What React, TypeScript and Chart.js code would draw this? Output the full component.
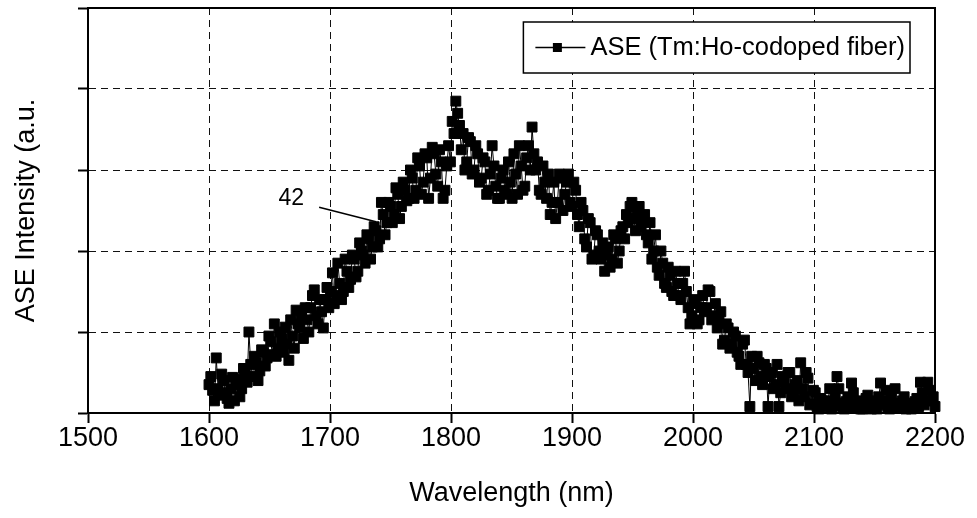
import React, { useEffect, useRef } from "react";
import { Chart, registerables } from "chart.js";

Chart.register(...registerables);

// ---- data (two interleaved sampling grids) ----
const wavelengths = [
  1600, 1603, 1606, 1609, 1612, 1615, 1618, 1621, 1624, 1627,
  1630, 1633, 1636, 1639, 1642, 1645, 1648, 1651, 1654, 1657,
  1660, 1663, 1666, 1669, 1672, 1675, 1678, 1681, 1684, 1687,
  1690, 1693, 1696, 1699, 1702, 1705, 1708, 1711, 1714, 1717,
  1720, 1723, 1726, 1729, 1732, 1735, 1738, 1741, 1744, 1747,
  1750, 1753, 1756, 1759, 1762, 1765, 1768, 1771, 1774, 1777,
  1780, 1783, 1786, 1789, 1792, 1795, 1798, 1801, 1804, 1807,
  1810, 1813, 1816, 1819, 1822, 1825, 1828, 1831, 1834, 1837,
  1840, 1843, 1846, 1849, 1852, 1855, 1858, 1861, 1864, 1867,
  1870, 1873, 1876, 1879, 1882, 1885, 1888, 1891, 1894, 1897,
  1900, 1903, 1906, 1909, 1912, 1915, 1918, 1921, 1924, 1927,
  1930, 1933, 1936, 1939, 1942, 1945, 1948, 1951, 1954, 1957,
  1960, 1963, 1966, 1969, 1972, 1975, 1978, 1981, 1984, 1987,
  1990, 1993, 1996, 1999, 2002, 2005, 2008, 2011, 2014, 2017,
  2020, 2023, 2026, 2029, 2032, 2035, 2038, 2041, 2044, 2047,
  2050, 2053, 2056, 2059, 2062, 2065, 2068, 2071, 2074, 2077,
  2080, 2083, 2086, 2089, 2092, 2095, 2098, 2101, 2104, 2107,
  2110, 2113, 2116, 2119, 2122, 2125, 2128, 2131, 2134, 2137,
  2140, 2143, 2146, 2149, 2152, 2155, 2158, 2161, 2164, 2167,
  2170, 2173, 2176, 2179, 2182, 2185, 2188, 2191, 2194, 2197,
  2200,
];

const intensity = [
  0.35, 0.28, 0.68, 0.22, 0.4, 0.18, 0.3, 0.15, 0.42, 0.3,
  0.5, 1.0, 0.45, 0.62, 0.52, 0.75, 0.68, 0.88, 1.1, 0.8,
  0.92, 1.06, 0.65, 0.95, 1.27, 1.05, 0.92, 1.15, 1.3, 1.52,
  1.1, 1.25, 1.4, 1.3, 1.73, 1.45, 1.6, 1.5, 1.75, 1.65,
  1.9, 1.75, 2.0, 1.85, 2.15, 2.05, 2.25, 2.15, 2.45, 2.35,
  2.55, 2.45, 2.7, 2.55, 2.75, 2.65, 2.9, 2.75, 3.05, 2.85,
  3.15, 2.9, 3.2, 2.8, 3.1, 2.75, 3.3, 3.6, 3.85, 3.55,
  3.45, 3.1, 3.35, 3.0, 3.2, 2.9, 3.1, 2.75, 3.3, 2.8,
  2.65, 3.0, 2.7, 2.85, 3.2, 2.7, 3.05, 2.8, 3.3, 3.53,
  3.0, 2.75, 3.05, 2.65, 2.45, 2.85, 2.6, 2.9, 2.7, 2.95,
  2.55, 2.75, 2.3, 2.5, 2.05, 2.35, 1.95, 2.2, 1.9, 1.75,
  2.05, 1.9, 2.15, 2.0, 2.3, 2.45, 2.55, 2.4, 2.5, 2.3,
  2.45, 2.1, 1.9, 2.2, 1.7, 1.85, 1.55, 1.7, 1.45, 1.6,
  1.4, 1.75, 1.3, 1.2, 1.35, 1.15, 1.45, 1.3, 1.5, 1.2,
  1.05, 1.25, 0.9, 1.05, 0.85, 0.95, 0.7, 0.85, 0.6, 0.08,
  0.55, 0.7, 0.45, 0.6, 0.08, 0.5, 0.35, 0.08, 0.45, 0.3,
  0.5, 0.25, 0.4, 0.62, 0.2, 0.43, 0.12, 0.25, 0.05, 0.15,
  0.08, 0.3, 0.1, 0.45, 0.12, 0.05, 0.2, 0.37, 0.08, 0.15,
  0.05, 0.18, 0.08, 0.12, 0.05, 0.37, 0.15, 0.08, 0.2, 0.3,
  0.06, 0.15, 0.05, 0.12, 0.08, 0.18, 0.38, 0.1, 0.38, 0.15,
  0.08,
];

const wavelengthsMid = [
  1601.5, 1604.5, 1607.5, 1610.5, 1613.5, 1616.5, 1619.5, 1622.5, 1625.5, 1628.5,
  1631.5, 1634.5, 1637.5, 1640.5, 1643.5, 1646.5, 1649.5, 1652.5, 1655.5, 1658.5,
  1661.5, 1664.5, 1667.5, 1670.5, 1673.5, 1676.5, 1679.5, 1682.5, 1685.5, 1688.5,
  1691.5, 1694.5, 1697.5, 1700.5, 1703.5, 1706.5, 1709.5, 1712.5, 1715.5, 1718.5,
  1721.5, 1724.5, 1727.5, 1730.5, 1733.5, 1736.5, 1739.5, 1742.5, 1745.5, 1748.5,
  1751.5, 1754.5, 1757.5, 1760.5, 1763.5, 1766.5, 1769.5, 1772.5, 1775.5, 1778.5,
  1781.5, 1784.5, 1787.5, 1790.5, 1793.5, 1796.5, 1799.5, 1802.5, 1805.5, 1808.5,
  1811.5, 1814.5, 1817.5, 1820.5, 1823.5, 1826.5, 1829.5, 1832.5, 1835.5, 1838.5,
  1841.5, 1844.5, 1847.5, 1850.5, 1853.5, 1856.5, 1859.5, 1862.5, 1865.5, 1868.5,
  1871.5, 1874.5, 1877.5, 1880.5, 1883.5, 1886.5, 1889.5, 1892.5, 1895.5, 1898.5,
  1901.5, 1904.5, 1907.5, 1910.5, 1913.5, 1916.5, 1919.5, 1922.5, 1925.5, 1928.5,
  1931.5, 1934.5, 1937.5, 1940.5, 1943.5, 1946.5, 1949.5, 1952.5, 1955.5, 1958.5,
  1961.5, 1964.5, 1967.5, 1970.5, 1973.5, 1976.5, 1979.5, 1982.5, 1985.5, 1988.5,
  1991.5, 1994.5, 1997.5, 2000.5, 2003.5, 2006.5, 2009.5, 2012.5, 2015.5, 2018.5,
  2021.5, 2024.5, 2027.5, 2030.5, 2033.5, 2036.5, 2039.5, 2042.5, 2045.5, 2048.5,
  2051.5, 2054.5, 2057.5, 2060.5, 2063.5, 2066.5, 2069.5, 2072.5, 2075.5, 2078.5,
  2081.5, 2084.5, 2087.5, 2090.5, 2093.5, 2096.5, 2099.5, 2102.5, 2105.5, 2108.5,
  2111.5, 2114.5, 2117.5, 2120.5, 2123.5, 2126.5, 2129.5, 2132.5, 2135.5, 2138.5,
  2141.5, 2144.5, 2147.5, 2150.5, 2153.5, 2156.5, 2159.5, 2162.5, 2165.5, 2168.5,
  2171.5, 2174.5, 2177.5, 2180.5, 2183.5, 2186.5, 2189.5, 2192.5, 2195.5, 2198.5,
];

const intensityMid = [
  0.45, 0.15, 0.3, 0.48, 0.25, 0.12, 0.44, 0.35, 0.2, 0.55,
  0.38, 0.6, 0.7, 0.4, 0.78, 0.58, 0.95, 0.72, 0.7, 1.0,
  0.75, 0.85, 1.15, 0.8, 1.1, 1.2, 1.3, 1.0, 1.45, 1.2,
  1.4, 1.05, 1.55, 1.5, 1.35, 1.85, 1.4, 1.9, 1.55, 1.95,
  1.68, 2.1, 1.95, 2.2, 1.9, 2.3, 2.05, 2.6, 2.2, 2.6,
  2.35, 2.78, 2.4, 2.85, 2.62, 3.0, 2.65, 3.15, 2.7, 3.2,
  2.65, 3.28, 2.95, 3.25, 2.65, 3.05, 3.1, 3.45, 3.7, 3.25,
  3.0, 3.4, 2.95, 3.3, 2.85, 3.15, 2.7, 2.95, 3.05, 2.65,
  2.9, 2.75, 3.1, 2.65, 2.95, 3.3, 2.75, 3.15, 3.0, 3.2,
  3.1, 2.7, 2.85, 2.95, 2.6, 2.4, 2.95, 2.5, 2.85, 2.6,
  2.85, 2.45, 2.6, 2.15, 2.4, 1.9, 2.25, 2.0, 2.1, 1.95,
  1.8, 2.2, 1.85, 2.25, 2.15, 2.35, 2.6, 2.25, 2.55, 2.4,
  2.2, 2.35, 2.0, 1.8, 2.0, 1.6, 1.8, 1.5, 1.75, 1.45,
  1.6, 1.5, 1.1, 1.4, 1.1, 1.3, 1.25, 1.52, 1.15, 1.35,
  1.15, 0.85, 1.1, 0.8, 1.0, 0.75, 0.6, 0.9, 0.5, 0.7,
  0.4, 0.62, 0.35, 0.55, 0.45, 0.3, 0.6, 0.25, 0.38, 0.5,
  0.2, 0.35, 0.15, 0.3, 0.5, 0.1, 0.28, 0.08, 0.18, 0.1,
  0.15, 0.05, 0.22, 0.3, 0.08, 0.14, 0.06, 0.25, 0.12, 0.05,
  0.12, 0.22, 0.05, 0.15, 0.2, 0.1, 0.28, 0.05, 0.12, 0.08,
  0.1, 0.2, 0.1, 0.05, 0.14, 0.08, 0.25, 0.15, 0.28, 0.2,
];

const xTickValues = [1500, 1600, 1700, 1800, 1900, 2000, 2100, 2200];
const seriesLabel = "ASE (Tm:Ho-codoped fiber)";
const xTitle = "Wavelength (nm)";
const yTitle = "ASE Intensity (a.u.";
const annotationText = "42";
const annotationLabelPoint = [1668, 2.65];
const annotationLineFrom = [1691, 2.54];
const annotationLineTo = [1738, 2.36];

const FONT = '"Liberation Sans", Arial, Helvetica, sans-serif';

const framePlugin = {
  id: "frame",
  afterDraw(chart: any) {
    const { ctx, chartArea } = chart;
    ctx.save();
    ctx.strokeStyle = "#000";
    ctx.lineWidth = 2;
    ctx.beginPath();
    ctx.moveTo(chartArea.left, chartArea.top);
    ctx.lineTo(chartArea.right, chartArea.top);
    ctx.lineTo(chartArea.right, chartArea.bottom);
    ctx.stroke();
    ctx.restore();
  },
};

const annotationPlugin = {
  id: "annot",
  afterDraw(chart: any) {
    const { ctx } = chart;
    const xs = chart.scales.x;
    const ys = chart.scales.y;
    ctx.save();
    ctx.fillStyle = "#000";
    ctx.font = `23px ${FONT}`;
    ctx.textAlign = "center";
    ctx.textBaseline = "middle";
    ctx.fillText(
      annotationText,
      xs.getPixelForValue(annotationLabelPoint[0]),
      ys.getPixelForValue(annotationLabelPoint[1])
    );
    ctx.strokeStyle = "#000";
    ctx.lineWidth = 1.5;
    ctx.beginPath();
    ctx.moveTo(xs.getPixelForValue(annotationLineFrom[0]), ys.getPixelForValue(annotationLineFrom[1]));
    ctx.lineTo(xs.getPixelForValue(annotationLineTo[0]), ys.getPixelForValue(annotationLineTo[1]));
    ctx.stroke();
    ctx.restore();
  },
};

const legendPlugin = {
  id: "boxLegend",
  afterDraw(chart: any) {
    const { ctx, chartArea } = chart;
    const label = chart.data.datasets[0].label as string;
    ctx.save();
    ctx.font = `25.5px ${FONT}`;
    const tw = ctx.measureText(label).width;
    const h = 51;
    const right = chartArea.right - 25;
    const top = chartArea.top + 14;
    const w = 12 + 55 + tw + 5;
    const left = right - w;
    ctx.fillStyle = "#fff";
    ctx.fillRect(left, top, w, h);
    ctx.strokeStyle = "#000";
    ctx.lineWidth = 1.5;
    ctx.strokeRect(left, top, w, h);
    const cy = top + h / 2;
    ctx.lineWidth = 1.5;
    ctx.beginPath();
    ctx.moveTo(left + 12, cy);
    ctx.lineTo(left + 62, cy);
    ctx.stroke();
    ctx.fillStyle = "#000";
    ctx.fillRect(left + 34 - 4.5, cy - 4.5, 9, 9);
    ctx.textAlign = "left";
    ctx.textBaseline = "middle";
    ctx.fillText(label, left + 67, cy);
    ctx.restore();
  },
};

export default function App() {
  const canvasRef = useRef<HTMLCanvasElement | null>(null);

  useEffect(() => {
    const canvas = canvasRef.current;
    if (!canvas) return;
    const points = wavelengths
      .map((w, i) => ({ x: w, y: intensity[i] }))
      .concat(wavelengthsMid.map((w, i) => ({ x: w, y: intensityMid[i] })))
      .sort((a, b) => a.x - b.x);
    const chart = new Chart(canvas, {
      type: "line",
      data: {
        datasets: [
          {
            label: seriesLabel,
            data: points,
            borderColor: "#000",
            borderWidth: 1,
            backgroundColor: "#000",
            pointStyle: "rect",
            pointRadius: 7,
            pointBorderWidth: 1,
            pointBorderColor: "#000",
            pointBackgroundColor: "#000",
            tension: 0,
            clip: false as any,
          },
        ],
      },
      options: {
        animation: false,
        responsive: false,
        maintainAspectRatio: false,
        layout: { padding: { top: 8, right: 42, left: 0, bottom: 0 } },
        plugins: {
          legend: { display: false },
          tooltip: { enabled: false },
        },
        scales: {
          x: {
            type: "linear",
            min: 1500,
            max: 2200,
            afterBuildTicks: (s: any) => {
              s.ticks = xTickValues.map((v) => ({ value: v }));
            },
            afterFit: (s: any) => {
              s.height = 105;
            },
            ticks: {
              color: "#000",
              font: { family: FONT, size: 27, lineHeight: 1.15 },
              padding: 0,
              maxRotation: 0,
              autoSkip: false,
              callback: (v: any) => String(v),
            },
            grid: {
              color: "#111",
              lineWidth: 1,
              drawTicks: true,
              tickLength: 10,
              tickColor: "#000",
              tickWidth: 2,
            },
            border: { display: true, color: "#000", width: 2, dash: [7, 5] },
            title: {
              display: true,
              text: xTitle,
              color: "#000",
              font: { family: FONT, size: 27, lineHeight: 1.2 },
              padding: { top: 0, bottom: 8 },
            },
          },
          y: {
            type: "linear",
            min: 0,
            max: 5,
            afterFit: (s: any) => {
              s.width = 88;
            },
            ticks: { display: false, stepSize: 1 },
            grid: {
              color: "#111",
              lineWidth: 1,
              drawTicks: true,
              tickLength: 10,
              tickColor: "#000",
              tickWidth: 2,
            },
            border: { display: true, color: "#000", width: 2, dash: [7, 5] },
            title: {
              display: true,
              text: yTitle,
              color: "#000",
              font: { family: FONT, size: 27, lineHeight: 1.2 },
              padding: { top: 10, bottom: 0 },
            },
          },
        },
      },
      plugins: [framePlugin, annotationPlugin, legendPlugin],
    });
    return () => chart.destroy();
  }, []);

  return (
    <div style={{ position: "absolute", left: 0, top: 0, width: 977, height: 518, background: "#fff" }}>
      <canvas ref={canvasRef} width={977} height={518} style={{ display: "block" }} />
    </div>
  );
}
